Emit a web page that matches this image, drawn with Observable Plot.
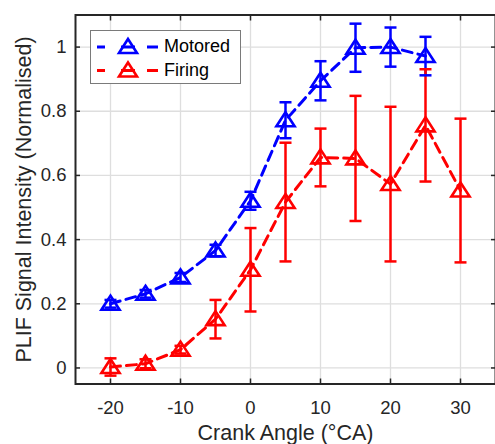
<!DOCTYPE html>
<html><head><meta charset="utf-8">
<script src="https://cdn.jsdelivr.net/npm/d3@7"></script>
<script src="https://cdn.jsdelivr.net/npm/@observablehq/plot@0.6"></script>
<style>
body{margin:0;background:#fff;}
#wrap{position:relative;width:495px;height:444px;overflow:hidden;}
#legend{position:absolute;left:90px;top:30px;}
</style></head><body><div id="wrap"></div>
<script>
// ---- data ----
const seriesNames = ["Motored", "Firing"];
const seriesColors = ["#0000ff", "#ff0000"];
const motoredAngle = [-20, -15, -10, -5, 0, 5, 10, 15, 20, 25];
const motoredMean  = [0.200, 0.231, 0.282, 0.366, 0.521, 0.772, 0.895, 0.998, 1.000, 0.972];
const motoredErr   = [0.012, 0.012, 0.014, 0.018, 0.028, 0.056, 0.061, 0.075, 0.061, 0.060];
const firingAngle  = [-20, -15, -10, -5, 0, 5, 10, 15, 20, 25, 30];
const firingMean   = [0.003, 0.013, 0.057, 0.152, 0.306, 0.517, 0.656, 0.653, 0.573, 0.756, 0.553];
const firingErr    = [0.027, 0.014, 0.012, 0.060, 0.130, 0.185, 0.090, 0.195, 0.241, 0.175, 0.224];
const xTicks = [-20, -10, 0, 10, 20, 30];
const yTicks = [0, 0.2, 0.4, 0.6, 0.8, 1];
const xLabel = "Crank Angle (°CA)";
const yLabel = "PLIF Signal Intensity (Normalised)";

const rows = [];
motoredAngle.forEach((a, i) => rows.push({series: seriesNames[0], x: a, y: motoredMean[i], err: motoredErr[i]}));
firingAngle.forEach((a, i) => rows.push({series: seriesNames[1], x: a, y: firingMean[i], err: firingErr[i]}));

// ---- symbols ----
const triSymbol = {draw(c, size) { const r = Math.sqrt(size / Math.PI);
  c.moveTo(0, -1.15 * r); c.lineTo(1.3 * r, 0.85 * r); c.lineTo(-1.3 * r, 0.85 * r); c.closePath(); }};
const capSymbol = {draw(c, size) { const r = Math.sqrt(size / Math.PI);
  c.moveTo(-r, 0); c.lineTo(r, 0); }};

const axisColor = "#262626";
const fmt = d => String(d);

const chart = Plot.plot({
  width: 495, height: 444,
  marginLeft: 75, marginRight: 0, marginTop: 14.5, marginBottom: 60.5,
  style: {fontFamily: "'Liberation Sans', Arial, sans-serif", fontSize: "18.5px", color: axisColor, background: "#fff"},
  x: {domain: [-25, 35]},
  y: {domain: [-0.05, 1.1]},
  color: {domain: seriesNames, range: seriesColors},
  marks: [
    Plot.gridX(xTicks, {stroke: "#dedede", strokeOpacity: 1, strokeWidth: 1.3}),
    Plot.gridY(yTicks, {stroke: "#dedede", strokeOpacity: 1, strokeWidth: 1.3}),
    Plot.line(rows, {x: "x", y: "y", z: "series", stroke: "series", strokeWidth: 3, strokeDasharray: "10,6"}),
    Plot.ruleX(rows, {x: "x", y1: d => d.y - d.err, y2: d => d.y + d.err, stroke: "series", strokeWidth: 2.5}),
    Plot.dot(rows, {x: "x", y: d => d.y + d.err, symbol: capSymbol, r: 6, stroke: "series", strokeWidth: 2.5}),
    Plot.dot(rows, {x: "x", y: d => d.y - d.err, symbol: capSymbol, r: 6, stroke: "series", strokeWidth: 2.5}),
    Plot.dot(rows, {x: "x", y: "y", symbol: triSymbol, r: 7, stroke: "series", fill: "none", strokeWidth: 2.6}),
    Plot.frame({stroke: axisColor, strokeWidth: 2}),
    Plot.axisX(xTicks, {anchor: "bottom", tickSize: 0, tickPadding: 16.5, tickFormat: fmt, label: null}),
    Plot.axisX(xTicks, {anchor: "bottom", tickSize: -5, tickFormat: () => "", label: null, stroke: axisColor, strokeWidth: 1.5}),
    Plot.axisX(xTicks, {anchor: "top", tickSize: -5, tickFormat: () => "", label: null, stroke: axisColor, strokeWidth: 1.5}),
    Plot.axisY(yTicks, {anchor: "left", tickSize: 0, tickPadding: 9, tickFormat: fmt, label: null}),
    Plot.axisY(yTicks, {anchor: "left", tickSize: -5, tickFormat: () => "", label: null, stroke: axisColor, strokeWidth: 1.5}),
    Plot.axisY(yTicks, {anchor: "right", tickSize: -5, tickFormat: () => "", label: null, stroke: axisColor, strokeWidth: 1.5}),
    Plot.text([xLabel], {frameAnchor: "bottom", textAnchor: "middle", lineAnchor: "middle", dy: 49, fontSize: 21.5, fill: axisColor}),
    Plot.text([yLabel], {frameAnchor: "left", textAnchor: "middle", lineAnchor: "middle", rotate: -90, dx: -51, fontSize: 21.5, fill: axisColor})
  ]
});
const wrap = document.getElementById("wrap");
wrap.appendChild(chart);

// ---- legend (overlay) ----
const lg = d3.select(wrap).append("svg").attr("id", "legend").attr("width", 152).attr("height", 55)
  .style("font-family", "'Liberation Sans', Arial, sans-serif");
lg.append("rect").attr("x", 0.5).attr("y", 0.5).attr("width", 150).attr("height", 53)
  .attr("fill", "#fff").attr("stroke", "#7a7a7a").attr("stroke-width", 1);
const rowY = [16, 39.5];
seriesNames.forEach((name, i) => {
  const g = lg.append("g").attr("transform", `translate(0,${rowY[i]})`);
  [[7, 15], [31, 45], [57, 68]].forEach(([a, b]) =>
    g.append("line").attr("x1", a).attr("x2", b).attr("y1", 1).attr("y2", 1)
      .attr("stroke", seriesColors[i]).attr("stroke-width", 3));
  g.append("path").attr("d", "M38,-7 L47,7 L29,7 Z").attr("fill", "none")
    .attr("stroke", seriesColors[i]).attr("stroke-width", 2.6);
  g.append("text").attr("x", 74).attr("y", 0).attr("dy", "0.35em").attr("font-size", 18)
    .attr("fill", "#000").text(name);
});
</script>
</body></html>
